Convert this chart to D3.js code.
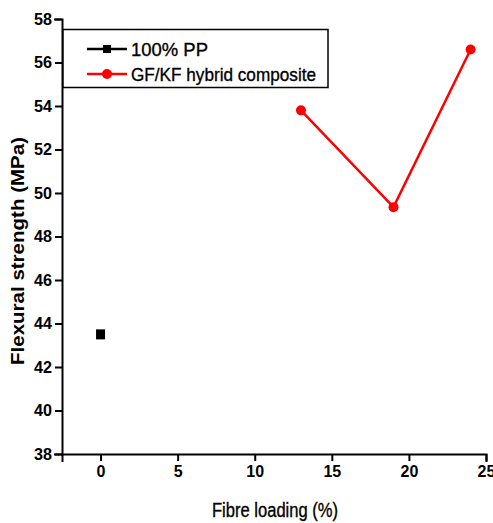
<!DOCTYPE html>
<html lang="en">
<head>
<meta charset="UTF-8">
<title>Flexural strength vs fibre loading</title>
<script src="https://d3js.org/d3.v7.min.js"></script>
<style>
    body { margin: 0; background: #fff; }
    text { font-family: Arial, "Liberation Sans", sans-serif; font-weight: bold; fill: #000; }
</style>
</head>
<body>
<script>
    // data
    const ppLoading = [0];
    const ppStrength = [43.5];
    const hybridLoading = [13, 19, 24];
    const hybridStrength = [53.8, 49.35, 56.6];
    const seriesNames = ["100% PP", "GF/KF hybrid composite"];
    const xTicks = [0, 5, 10, 15, 20, 25];
    const yTicks = [38, 40, 42, 44, 46, 48, 50, 52, 54, 56, 58];

    const width = 493, height = 523;
    const margin = { left: 62, right: 7, top: 19, bottom: 69 };

    const svg = d3.select("body").append("svg")
        .attr("width", width)
        .attr("height", height);

    const x = d3.scaleLinear().domain([-2.5, 25]).range([margin.left, width - margin.right]);
    const y = d3.scaleLinear().domain([38, 58]).range([height - margin.bottom, margin.top]);

    // x axis, minor ticks every 2.5
    const xAxis = svg.append("g").attr("transform", `translate(0,${y(38)})`);
    xAxis.call(d3.axisBottom(x).tickValues(d3.range(-2.5, 25.1, 2.5)).tickSize(4).tickFormat(""));
    xAxis.call(d3.axisBottom(x).tickValues(xTicks).tickSize(7).tickPadding(5).tickFormat(d3.format("d")));
    xAxis.selectAll(".domain").attr("stroke-width", 2);
    xAxis.selectAll("line").attr("stroke-width", 2);
    xAxis.selectAll("text").style("font-size", "16px");

    // y axis, minor ticks on odd values
    const yAxis = svg.append("g").attr("transform", `translate(${x(-2.5)},0)`);
    yAxis.call(d3.axisLeft(y).tickValues(d3.range(39, 58, 2)).tickSize(4).tickFormat(""));
    yAxis.call(d3.axisLeft(y).tickValues(yTicks).tickSize(7).tickPadding(3).tickFormat(d3.format("d")));
    yAxis.selectAll(".domain").attr("stroke-width", 2);
    yAxis.selectAll("line").attr("stroke-width", 2);
    yAxis.selectAll("text").style("font-size", "17px").attr("textLength", 18).attr("lengthAdjust", "spacingAndGlyphs");
    svg.selectAll(".domain").attr("stroke-linecap", "square");
    svg.selectAll(".tick text").attr("font-family", null);

    // axis titles
    svg.append("text")
        .attr("x", 275).attr("y", 517)
        .attr("text-anchor", "middle")
        .attr("textLength", 126)
        .attr("lengthAdjust", "spacingAndGlyphs")
        .style("font-size", "20px")
        .style("font-weight", "normal")
        .style("stroke", "#000").style("stroke-width", 0.35)
        .text("Fibre loading (%)");

    svg.append("text")
        .attr("transform", "translate(24,251) rotate(-90)")
        .attr("text-anchor", "middle")
        .attr("textLength", 228)
        .attr("lengthAdjust", "spacingAndGlyphs")
        .style("font-size", "18px")
        .text("Flexural strength (MPa)");

    // series
    const line = d3.line().x(d => x(d[0])).y(d => y(d[1]));
    const hybrid = d3.zip(hybridLoading, hybridStrength);
    svg.append("path")
        .datum(hybrid)
        .attr("d", line)
        .attr("fill", "none")
        .attr("stroke", "#ff0000")
        .attr("stroke-width", 2.5);
    svg.selectAll(".hyb")
        .data(hybrid)
        .enter().append("circle")
        .attr("cx", d => x(d[0]))
        .attr("cy", d => y(d[1]))
        .attr("r", 5)
        .attr("fill", "#ff0000");

    const pp = d3.zip(ppLoading, ppStrength);
    svg.selectAll(".pp")
        .data(pp)
        .enter().append("rect")
        .attr("x", d => x(d[0]) - 4.5)
        .attr("y", d => y(d[1]) - 5)
        .attr("width", 9)
        .attr("height", 10)
        .attr("fill", "#000");

    // legend
    const legend = svg.append("g");
    legend.append("rect")
        .attr("x", 63).attr("y", 29.5)
        .attr("width", 265).attr("height", 58)
        .attr("fill", "#fff")
        .attr("stroke", "#000")
        .attr("stroke-width", 1.5);
    const colors = ["#000", "#ff0000"];
    const textWidths = [77, 185];
    seriesNames.forEach((name, i) => {
        const cy = 49 + i * 25;
        legend.append("line")
            .attr("x1", 87).attr("x2", 127)
            .attr("y1", cy).attr("y2", cy)
            .attr("stroke", colors[i])
            .attr("stroke-width", 2.5);
        if (i === 0) {
            legend.append("rect").attr("x", 103).attr("y", cy - 4).attr("width", 8).attr("height", 8).attr("fill", "#000");
        } else {
            legend.append("circle").attr("cx", 107).attr("cy", cy).attr("r", 5).attr("fill", "#ff0000");
        }
        legend.append("text")
            .attr("x", 131).attr("y", cy)
            .attr("dy", "0.36em")
            .attr("textLength", textWidths[i])
            .attr("lengthAdjust", "spacingAndGlyphs")
            .style("font-size", "19px")
            .style("font-weight", "normal")
            .style("stroke", "#000").style("stroke-width", 0.35)
            .text(name);
    });
</script>
</body>
</html>
